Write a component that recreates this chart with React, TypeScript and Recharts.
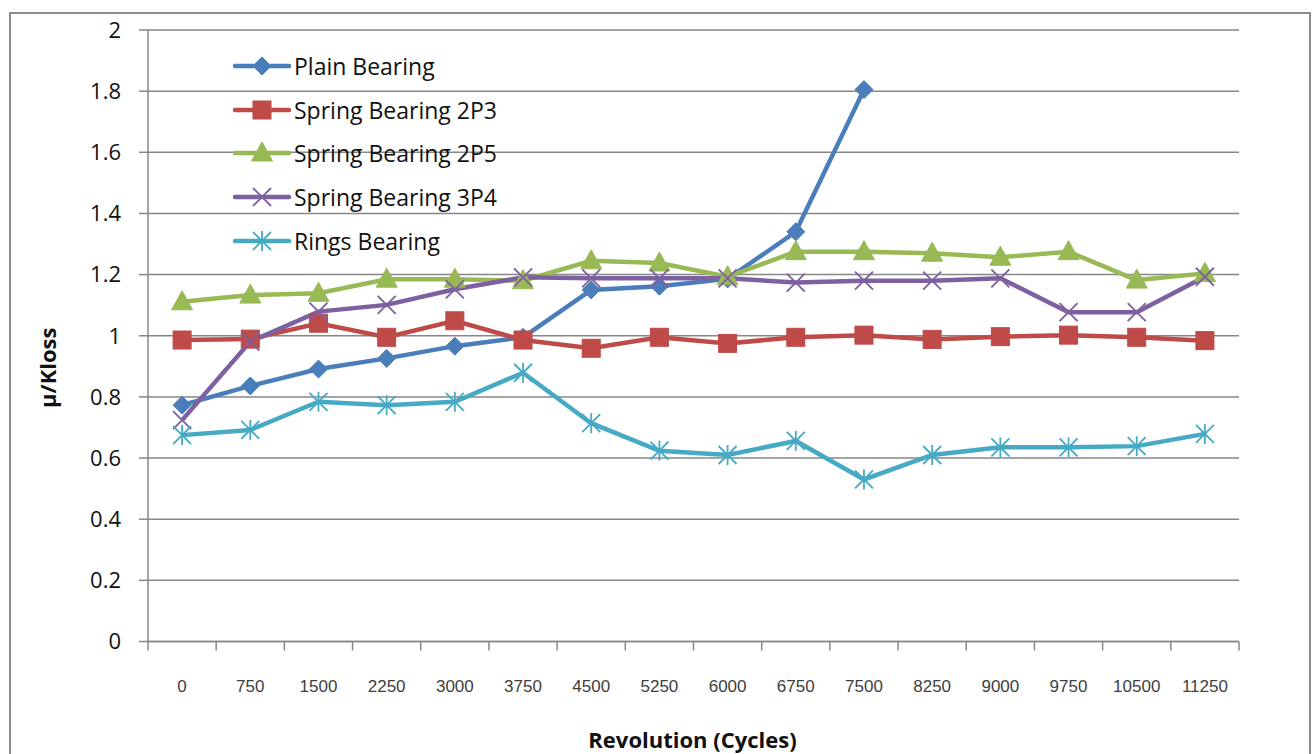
import React from 'react';
import { LineChart, Line, XAxis, YAxis, CartesianGrid, Legend } from 'recharts';

const revolutions = ['0', '750', '1500', '2250', '3000', '3750', '4500', '5250', '6000', '6750', '7500', '8250', '9000', '9750', '10500', '11250'];
const plainBearing = [0.773, 0.836, 0.891, 0.926, 0.966, 0.995, 1.15, 1.162, 1.186, 1.34, 1.805, null, null, null, null, null];
const springBearing2P3 = [0.986, 0.989, 1.041, 0.995, 1.049, 0.986, 0.959, 0.995, 0.975, 0.995, 1.002, 0.988, 0.997, 1.002, 0.995, 0.984];
const springBearing2P5 = [1.111, 1.133, 1.139, 1.185, 1.185, 1.18, 1.245, 1.238, 1.193, 1.275, 1.275, 1.27, 1.257, 1.275, 1.182, 1.204];
const springBearing3P4 = [0.724, 0.981, 1.079, 1.101, 1.152, 1.191, 1.188, 1.188, 1.188, 1.174, 1.18, 1.18, 1.188, 1.077, 1.077, 1.193];
const ringsBearing = [0.675, 0.692, 0.784, 0.773, 0.784, 0.879, 0.714, 0.624, 0.61, 0.656, 0.53, 0.61, 0.635, 0.635, 0.639, 0.679];
const yTicks = [0, 0.2, 0.4, 0.6, 0.8, 1, 1.2, 1.4, 1.6, 1.8, 2];

const seriesInfo = [
  { key: 'plain', name: 'Plain Bearing', color: '#4A7EBB', marker: 'diamond' },
  { key: 's2p3', name: 'Spring Bearing 2P3', color: '#BE4B48', marker: 'square' },
  { key: 's2p5', name: 'Spring Bearing 2P5', color: '#98B954', marker: 'triangle' },
  { key: 's3p4', name: 'Spring Bearing 3P4', color: '#7D60A0', marker: 'x' },
  { key: 'rings', name: 'Rings Bearing', color: '#46AAC5', marker: 'star' },
];

const data = revolutions.map((rev, i) => ({
  rev,
  plain: plainBearing[i],
  s2p3: springBearing2P3[i],
  s2p5: springBearing2P5[i],
  s3p4: springBearing3P4[i],
  rings: ringsBearing[i],
}));

const CHART_W = 1315;
const CHART_H = 754;
const MARGIN = { top: 30, right: 76, bottom: 0, left: 98 };
const Y_W = 50;
const PLOT_W = CHART_W - MARGIN.left - MARGIN.right - Y_W;
const HALF_BAND = PLOT_W / revolutions.length / 2;
const X_TICK_SIZE = 9;
const X_TICK_MARGIN = 29;
const GRID = '#878787';
const FONT = '"Open Sans", "Noto Sans", sans-serif';

function Marker({ type, cx, cy, color }: any) {
  if (cx == null || cy == null || isNaN(cx) || isNaN(cy)) return <g />;
  const r = 9;
  switch (type) {
    case 'diamond':
      return <polygon points={`${cx},${cy - r} ${cx + r},${cy} ${cx},${cy + r} ${cx - r},${cy}`} fill={color} stroke={color} strokeWidth={1} />;
    case 'square':
      return <rect x={cx - r} y={cy - r} width={2 * r} height={2 * r} fill={color} stroke={color} strokeWidth={1} />;
    case 'triangle':
      return <polygon points={`${cx},${cy - 11} ${cx + 10.5},${cy + 8} ${cx - 10.5},${cy + 8}`} fill={color} stroke={color} strokeWidth={1} />;
    case 'x':
      return (
        <g stroke={color} strokeWidth={1.8}>
          <line x1={cx - r} y1={cy - r} x2={cx + r} y2={cy + r} />
          <line x1={cx - r} y1={cy + r} x2={cx + r} y2={cy - r} />
        </g>
      );
    case 'star':
    default:
      return (
        <g stroke={color} strokeWidth={1.8}>
          <line x1={cx - r} y1={cy - r} x2={cx + r} y2={cy + r} />
          <line x1={cx - r} y1={cy + r} x2={cx + r} y2={cy - r} />
          <line x1={cx} y1={cy - r - 1} x2={cx} y2={cy + r + 1} />
        </g>
      );
  }
}

const XTick = (props: any) => {
  const { x, y, payload, index } = props;
  const axisY = y - X_TICK_SIZE - X_TICK_MARGIN;
  const last = index === revolutions.length - 1;
  return (
    <g>
      <line x1={x - HALF_BAND} x2={x - HALF_BAND} y1={axisY} y2={axisY + X_TICK_SIZE} stroke={GRID} strokeWidth={1.5} />
      {last && <line x1={x + HALF_BAND} x2={x + HALF_BAND} y1={axisY} y2={axisY + X_TICK_SIZE} stroke={GRID} strokeWidth={1.5} />}
      <text x={x} y={y + 0.5} dy="0.71em" textAnchor="middle" fill="#404040" fontSize={17} fontFamily='"Liberation Sans", Arial, sans-serif'>
        {payload.value}
      </text>
    </g>
  );
};

const renderLegend = () => (
  <div style={{ fontFamily: FONT, fontSize: 23, color: '#111' }}>
    {seriesInfo.map((s) => (
      <div key={s.key} style={{ display: 'flex', alignItems: 'center', height: 43.8 }}>
        <svg width={58} height={26} style={{ display: 'block' }}>
          <line x1={2} x2={56} y1={13} y2={13} stroke={s.color} strokeWidth={4.5} strokeLinecap="round" />
          <Marker type={s.marker} cx={29} cy={13} color={s.color} />
        </svg>
        <span style={{ marginLeft: 3, lineHeight: '26px' }}>{s.name}</span>
      </div>
    ))}
  </div>
);

const YTitle = (props: any) => {
  const vb = props.viewBox || {};
  const cx = vb.x - 51;
  const cy = vb.y + vb.height / 2 + 32;
  return (
    <text transform={`translate(${cx},${cy}) rotate(-90)`} textAnchor="middle" dominantBaseline="central" fontFamily={FONT} fontWeight={700} fontSize={22} fill="#111">
      µ/Kloss
    </text>
  );
};

const XTitle = (props: any) => {
  const vb = props.viewBox || {};
  const cx = vb.x + vb.width / 2 - 1;
  return (
    <text x={cx} y={739} textAnchor="middle" dominantBaseline="central" fontFamily={FONT} fontWeight={700} fontSize={22} fill="#111">
      Revolution (Cycles)
    </text>
  );
};

export default function App() {
  return (
    <div style={{ position: 'absolute', left: 0, top: 0, width: CHART_W, height: CHART_H, overflow: 'hidden', background: '#fff' }}>
      <div style={{ position: 'absolute', left: 9, top: 12, width: 1302, height: 800, border: '2px solid #8c8c8c', boxSizing: 'border-box' }} />
      <div style={{ position: 'absolute', left: 0, top: 0 }}>
        <LineChart width={CHART_W} height={CHART_H} data={data} margin={MARGIN}>
          <CartesianGrid vertical={false} stroke={GRID} strokeWidth={1.5} />
          <XAxis
            dataKey="rev"
            padding={{ left: HALF_BAND, right: HALF_BAND }}
            height={CHART_H - MARGIN.top - 611.5}
            axisLine={{ stroke: GRID, strokeWidth: 1.5 }}
            tickLine={false}
            tickSize={X_TICK_SIZE}
            tickMargin={X_TICK_MARGIN}
            tick={<XTick />}
            interval={0}
            label={<XTitle />}
          />
          <YAxis
            width={Y_W}
            domain={[0, 2]}
            ticks={yTicks}
            interval={0}
            axisLine={{ stroke: GRID, strokeWidth: 1.5 }}
            tickLine={{ stroke: GRID, strokeWidth: 1.5 }}
            tickSize={9}
            tickMargin={18}
            tick={{ fontFamily: FONT, fontSize: 22, fill: '#111' }}
            tickFormatter={(v: number) => String(Math.round(v * 10) / 10)}
            label={<YTitle />}
          />
          <Legend
            layout="vertical"
            align="center"
            verticalAlign="middle"
            content={renderLegend}
            wrapperStyle={{ left: 233, top: 44, width: 'auto', height: 'auto' }}
          />
          {seriesInfo.map((s) => (
            <Line
              key={s.key}
              type="linear"
              dataKey={s.key}
              name={s.name}
              stroke={s.color}
              strokeWidth={4.5}
              isAnimationActive={false}
              connectNulls={false}
              dot={(p: any) => <Marker key={`${s.key}-${p.index}`} type={s.marker} cx={p.cx} cy={p.cy} color={s.color} />}
              activeDot={false}
            />
          ))}
        </LineChart>
      </div>
    </div>
  );
}
